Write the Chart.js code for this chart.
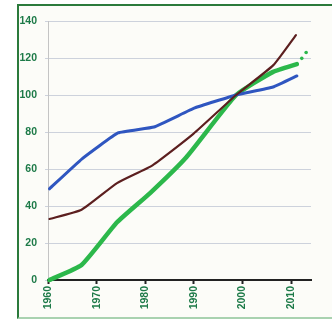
<!DOCTYPE html>
<html>
<head>
<meta charset="utf-8">
<script src="https://cdn.jsdelivr.net/npm/chart.js@4/dist/chart.umd.min.js"></script>
<style>
  html, body { margin: 0; padding: 0; background: #ffffff; }
  #wrap { position: relative; width: 332px; height: 320px; overflow: hidden; }
  #frame {
    position: absolute; left: 17px; top: 4px; width: 330px; height: 311px;
    border: 2px solid #2b7a3b; border-bottom-color: #a9d2b0;
    background: #fcfcf8;
  }
  #c { position: absolute; left: 0; top: 0; }
</style>
</head>
<body>
<div id="wrap">
  <div id="frame"></div>
  <canvas id="c" width="332" height="320"></canvas>
</div>
<script>
// ===== DATA (index values) =====
const blueYears  = [1960.3, 1967, 1974.4, 1981.8, 1990.2, 1998.7, 2006.3, 2011.2];
const blueVals   = [49.3, 65.5, 79.5, 82.7, 93, 100, 104.3, 110.3];

const brownYears = [1960.3, 1966.9, 1974.2, 1981.5, 1989.9, 1998.7, 2006.3, 2011];
const brownVals  = [33, 38, 52.4, 62, 79, 100, 116, 132.4];

const greenYears = [1960.3, 1966.9, 1974.2, 1981, 1988.5, 1998.7, 2006.3, 2011.2];
const greenVals  = [0, 8.1, 31.2, 47, 66.5, 100, 112.5, 116.7];

const dotYears   = [2012.2, 2013.1];
const dotVals    = [119.8, 123];

const xTicks = [1960, 1970, 1980, 1990, 2000, 2010];
const yTicks = [0, 20, 40, 60, 80, 100, 120, 140];

const pts = (xs, ys) => xs.map((x, i) => ({ x: x, y: ys[i] }));

const tickFont = { family: 'Liberation Sans', size: 10.5, weight: 'bold' };
const tickColor = '#1d7a48';

new Chart(document.getElementById('c'), {
  type: 'line',
  data: {
    datasets: [
      { data: pts(brownYears, brownVals), borderColor: '#5c1f1f', borderWidth: 2.2, tension: 0.15 },
      { data: pts(blueYears, blueVals), borderColor: '#2f56c0', borderWidth: 3, tension: 0.1 },
      { data: pts(greenYears, greenVals), borderColor: '#2cb84b', borderWidth: 4.5, tension: 0.15 },
      { data: pts(dotYears, dotVals), showLine: false, pointRadius: 1.8,
        pointBackgroundColor: '#2cb84b', pointBorderWidth: 0 }
    ]
  },
  options: {
    responsive: false,
    animation: false,
    layout: { padding: { top: 21, right: 21, bottom: 0, left: 0 } },
    elements: {
      point: { radius: 0 },
      line: { borderCapStyle: 'round', borderJoinStyle: 'round' }
    },
    datasets: { line: { clip: false } },
    plugins: { legend: { display: false }, tooltip: { enabled: false } },
    scales: {
      x: {
        type: 'linear',
        min: 1960, max: 2014.1,
        afterFit: s => { s.height = 40; },
        afterBuildTicks: s => { s.ticks = xTicks.map(v => ({ value: v })); },
        ticks: {
          minRotation: 90, maxRotation: 90, autoSkip: false,
          color: tickColor, font: tickFont, padding: 2,
          callback: v => String(v)
        },
        grid: { drawOnChartArea: false, color: '#222', tickLength: 4, tickWidth: 2 },
        border: { color: '#222', width: 2 }
      },
      y: {
        min: 0, max: 140,
        afterFit: s => { s.width = 48; },
        afterBuildTicks: s => { s.ticks = yTicks.map(v => ({ value: v })); },
        ticks: { color: tickColor, font: tickFont, padding: 8 },
        grid: { color: '#cdd2dc', tickLength: 3 },
        border: { color: '#c4c4c4', width: 1 }
      }
    }
  }
});
</script>
</body>
</html>
